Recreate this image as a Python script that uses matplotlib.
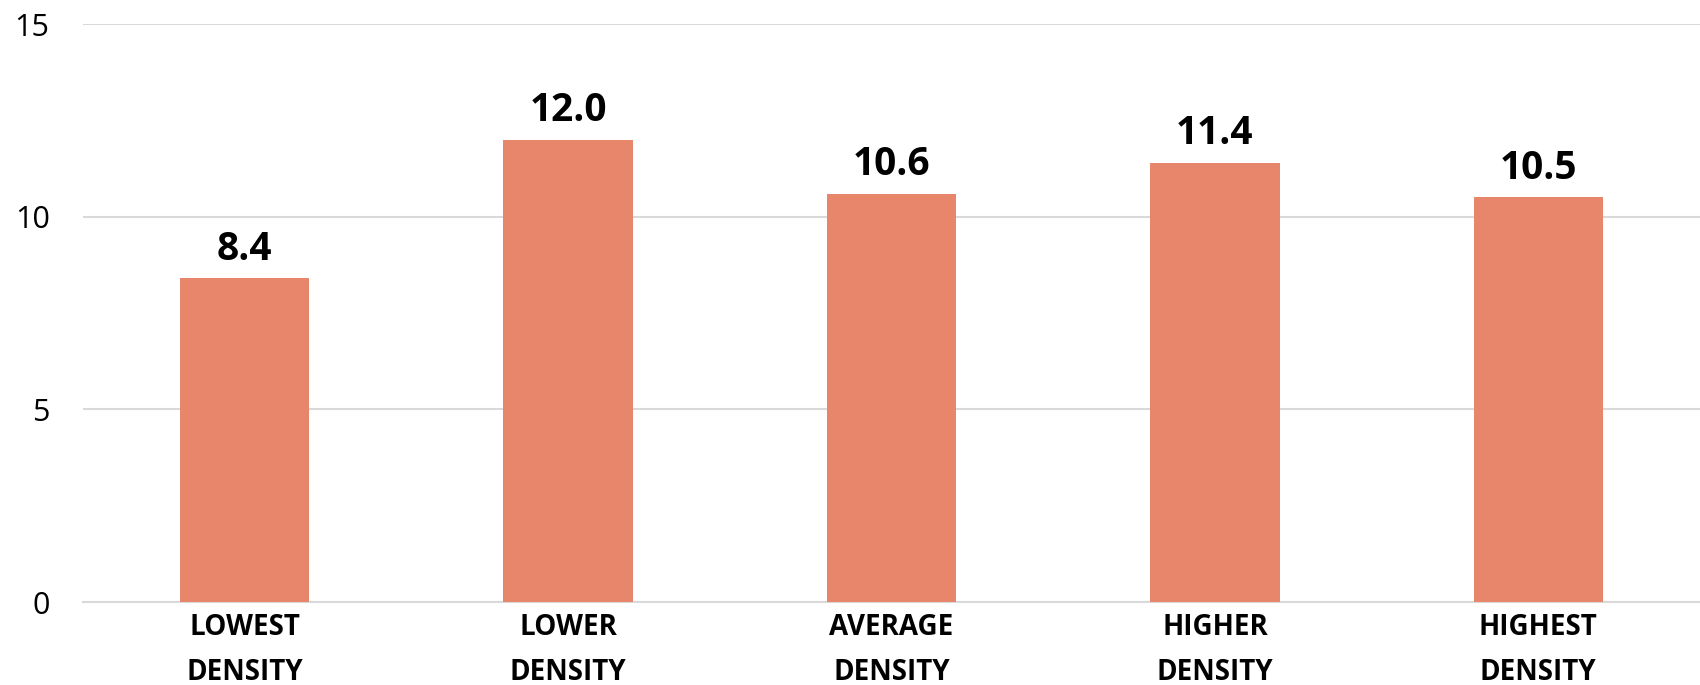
import matplotlib
matplotlib.use('Agg')
import matplotlib.pyplot as plt

# Données
categories = ['LOWEST\nDENSITY', 'LOWER\nDENSITY', 'AVERAGE\nDENSITY', 'HIGHER\nDENSITY', 'HIGHEST\nDENSITY']
values = [8.4, 12.0, 10.6, 11.4, 10.5]
yticks = [0, 5, 10, 15]

bar_color = '#E7866A'
grid_color = '#D9D9D9'

plt.rcParams['font.family'] = ['Open Sans', 'DejaVu Sans']

fig = plt.figure(figsize=(17, 6.85), dpi=100)
ax = fig.add_axes([83 / 1700, 83 / 685, 1 - 83 / 1700, (602 - 24) / 685])

x = range(len(categories))
ax.bar(x, values, width=0.4, color=bar_color, zorder=3)

# étiquettes de valeur
for xi, v in zip(x, values):
    ax.annotate(f"{v:.1f}", (xi, v), xytext=(0, 7), textcoords='offset points',
                ha='center', va='bottom', fontsize=28, fontweight='bold', color='black')

ax.set_xlim(-0.5, len(categories) - 0.5)
ax.set_ylim(0, 15)
ax.set_yticks(yticks)
ax.set_yticklabels([str(t) for t in yticks], fontsize=22)
ax.set_xticks(list(x))
ax.set_xticklabels(categories, fontsize=20, fontweight='bold', linespacing=1.7)

ax.tick_params(axis='y', length=0, pad=24)
ax.tick_params(axis='x', length=0, pad=8)

ax.grid(axis='y', color=grid_color, linewidth=1.5, zorder=0)
for s in ['top', 'right', 'left']:
    ax.spines[s].set_visible(False)
ax.spines['bottom'].set_color(grid_color)
ax.spines['bottom'].set_linewidth(1.5)

fig.savefig('out.png', dpi=100)
